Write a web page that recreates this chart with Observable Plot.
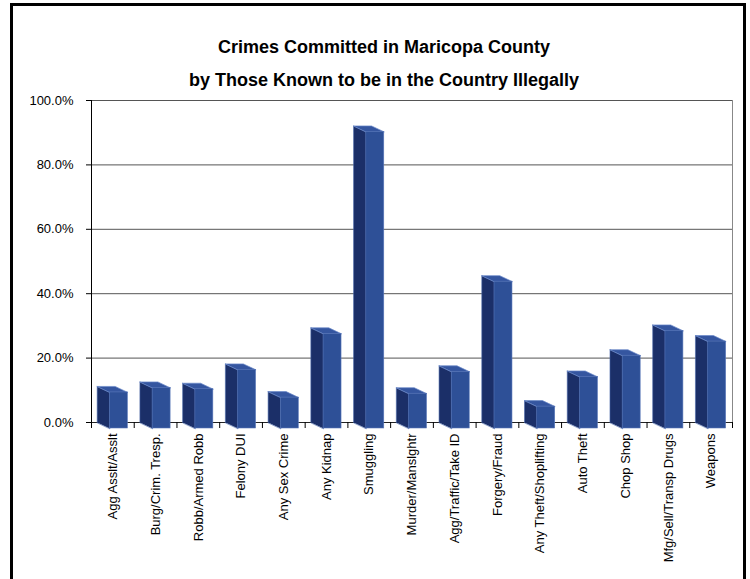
<!DOCTYPE html>
<html><head><meta charset="utf-8">
<script src="https://cdn.jsdelivr.net/npm/d3@7"></script>
<script src="https://cdn.jsdelivr.net/npm/@observablehq/plot@0.6"></script>
<style>
body{margin:0;background:#fff;}
#wrap{position:relative;width:750px;height:579px;overflow:hidden;}
#frame{position:absolute;left:10px;top:3px;width:730px;height:620px;border:3px solid #000;border-bottom:none;}
#title{position:absolute;left:0;width:768px;top:31px;text-align:center;font-family:"Liberation Sans",Arial,sans-serif;font-weight:bold;font-size:18px;line-height:33px;color:#000;}
#chart{position:absolute;left:0;top:0;}
</style></head>
<body><div id="wrap"><div id="frame"></div><div id="chart"></div><div id="title">Crimes Committed in Maricopa County<br>by Those Known to be in the Country Illegally</div></div>
<script>
const categories = ["Agg Asslt/Asslt","Burg/Crim. Tresp.","Robb/Armed Robb","Felony DUI","Any Sex Crime","Any Kidnap","Smuggling","Murder/Manslghtr","Agg/Traffic/Take ID","Forgery/Fraud","Any Theft/Shoplifting","Auto Theft","Chop Shop","Mfg/Sell/Transp Drugs","Weapons"];
const values = [11.2, 12.6, 12.2, 18.2, 9.6, 29.4, 92.1, 10.8, 17.6, 45.6, 6.8, 16.0, 22.6, 30.3, 27.0];
const yTicks = [0, 20, 40, 60, 80, 100];

// 3D box geometry (in scale units): depth offset, face width
const depthX = 0.297, depthY = 1.863, faceW = 0.421, backOff = 0.367;

const sides = values.flatMap((v, i) => {
  const xb = i - backOff, xf = xb + depthX;
  return [{id: i, x: xb, y: 0}, {id: i, x: xb, y: v}, {id: i, x: xf, y: v - depthY}, {id: i, x: xf, y: -depthY}];
});
const tops = values.flatMap((v, i) => {
  const xb = i - backOff, xf = xb + depthX;
  return [{id: i, x: xb, y: v}, {id: i, x: xb + faceW, y: v}, {id: i, x: xf + faceW, y: v - depthY}, {id: i, x: xf, y: v - depthY}];
});
const fronts = values.map((v, i) => {
  const xf = i - backOff + depthX;
  return {x1: xf, x2: xf + faceW, y1: -depthY, y2: v - depthY};
});

const chart = Plot.plot({
  width: 750, height: 579,
  marginLeft: 91, marginRight: 18, marginTop: 100, marginBottom: 157,
  x: {domain: [-0.5, 14.5]},
  y: {domain: [0, 100]},
  style: {fontFamily: "'Liberation Sans', Arial, sans-serif", fontSize: "13px", background: "transparent", color: "#000"},
  marks: [
    Plot.gridY(yTicks.slice(1), {stroke: "#555", strokeOpacity: 1}),
    Plot.ruleX([14.5], {y1: 0, y2: 100, stroke: "#888"}),
    Plot.axisY(yTicks, {tickFormat: d => d.toFixed(1) + "%", tickSize: 5, tickPadding: 13, fontSize: 13}),
    Plot.ruleX([-0.5], {stroke: "#000"}),
    Plot.ruleY([0], {stroke: "#222"}),
    Plot.axisX(d3.range(16).map(i => i - 0.5), {tickSize: 6, tickFormat: () => ""}),
    Plot.axisX(d3.range(15), {tickSize: 0, tickRotate: -90, tickPadding: 11, tickFormat: i => categories[i], fontSize: 13}),
    Plot.line(sides, {x: "x", y: "y", z: "id", fill: "#1b2f68", stroke: "#4a68aa", strokeWidth: 0.6, curve: "linear-closed"}),
    Plot.line(tops, {x: "x", y: "y", z: "id", fill: "#3556a0", stroke: "#6a88c8", strokeWidth: 0.7, curve: "linear-closed"}),
    Plot.rect(fronts, {x1: "x1", x2: "x2", y1: "y1", y2: "y2", fill: "#2e5097", stroke: "#5a78ba", strokeWidth: 0.6})
  ]
});
document.getElementById("chart").appendChild(chart);
</script>
</body></html>
